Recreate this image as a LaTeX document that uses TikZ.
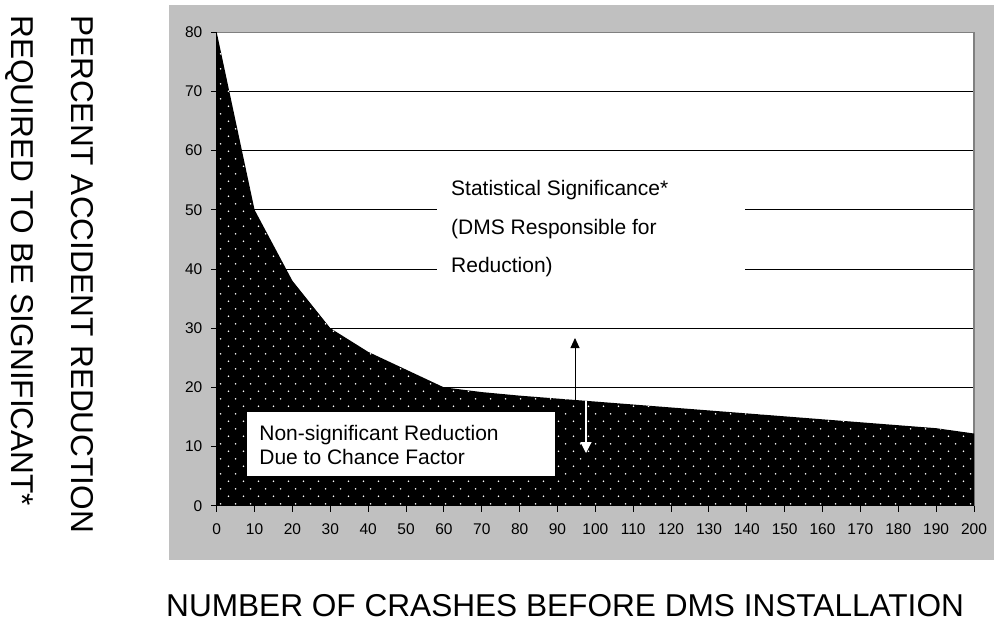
\documentclass[tikz,border=0pt]{standalone}
\usepackage{fontspec}
\setmainfont{Liberation Sans}
\usetikzlibrary{patterns,arrows.meta}
\definecolor{bggray}{HTML}{C0C0C0}
\definecolor{bordergray}{HTML}{808080}
\pgfdeclarepatternformonly{dmsdots}{\pgfpointorigin}{\pgfqpoint{15pt}{15.4pt}}{\pgfqpoint{15pt}{15.4pt}}{%
  \pgfpathcircle{\pgfqpoint{3.75pt}{3.85pt}}{0.9pt}%
  \pgfpathcircle{\pgfqpoint{11.25pt}{11.55pt}}{0.9pt}%
  \pgfusepath{fill}%
}
\tikzset{
  gridline/.style={black, line width=0.8pt},
  ticklabel/.style={inner sep=0pt, font=\fontsize{15.5}{18}\selectfont},
  boxtext/.style={inner sep=0pt, anchor=base west, font=\fontsize{21}{24}\selectfont},
  titletext/.style={inner sep=0pt, anchor=base west, font=\fontsize{31.6}{36}\selectfont},
  whitebox/.style={fill=white, inner sep=0pt, anchor=north west},
}
\begin{document}
\begin{tikzpicture}[x=1pt,y=-1pt]
\useasboundingbox (0,0) rectangle (994,622);
% gray chart background
\fill[bggray] (169,5) rectangle (994,560);
% plot area
\fill[white] (216.7,32.3) rectangle (974,505.7);
\begin{scope}[shift={(216.7pt,-505.7pt)}, x=3.7865pt, y=5.9175pt]
  \foreach \v in {10,20,...,70} \draw[gridline] (0,\v) -- (200,\v);
  \draw[bordergray, line width=1.5pt] (0,80) -- (200,80) -- (200,0);
  \path[fill=black, postaction={pattern=dmsdots, pattern color=white}]
    (0,0) -- (0,80) -- (10,50) -- (20,38) -- (30,30) -- (40,26) -- (50,23)
    -- (60,20) -- (70,19.2) -- (80,18.6) -- (90,18.1) -- (100,17.6)
    -- (110,17.1) -- (120,16.6) -- (130,16.1) -- (140,15.6) -- (150,15.1)
    -- (160,14.6) -- (170,14.1) -- (180,13.6) -- (190,13.1) -- (200,12.2)
    -- (200,0) -- cycle;
  \draw[black, line width=1pt] (0,80) -- (0,0) -- (200,0);
  \foreach \v in {0,10,...,80} {
    \draw[black, line width=1pt] (0,\v) -- ([xshift=-6pt]0,\v);
    \node[ticklabel, anchor=east] (yl\v) at ([xshift=-14.2pt]0,\v) {\v};
  }
  \foreach \v in {0,10,...,200} {
    \draw[black, line width=1pt] (\v,0) -- ([yshift=-6pt]\v,0);
    \node[ticklabel, anchor=north] (xl\v) at ([yshift=-17.6pt]\v,0) {\v};
  }
\end{scope}
% statistical significance label
\node[whitebox, minimum width=308pt, minimum height=125pt] (sigbg) at (437,165) {};
\node[boxtext] (sig1) at (451,195.5) {Statistical Significance*};
\node[boxtext] (sig2) at (451,234.5) {(DMS Responsible for};
\node[boxtext] (sig3) at (451,272.5) {Reduction)};
% non-significant label
\node[whitebox, minimum width=308.3pt, minimum height=64pt] (nsbg) at (246.7,411.7) {};
\node[boxtext] (ns1) at (259.2,440.5) {Non-significant Reduction};
\node[boxtext] (ns2) at (259.2,464.2) {Due to Chance Factor};
% arrows
\coordinate (upstart) at (575,400.5);
\coordinate (uptip) at (575,338);
\coordinate (dnstart) at (586,400.5);
\coordinate (dntip) at (586,453);
\draw[black, line width=0.9pt, -{Triangle[width=9pt,length=10pt]}] (upstart) -- (uptip);
\draw[white, line width=1.2pt, -{Triangle[width=11pt,length=11pt]}] (dnstart) -- (dntip);
% axis titles
\node[titletext] (xtitle) at (166,616) {NUMBER OF CRASHES BEFORE DMS INSTALLATION};
\node[titletext, rotate=-90] (ytitle1) at (71,15) {PERCENT ACCIDENT REDUCTION};
\node[titletext, rotate=-90] (ytitle2) at (12,15) {REQUIRED TO BE SIGNIFICANT*};
\end{tikzpicture}
\end{document}
